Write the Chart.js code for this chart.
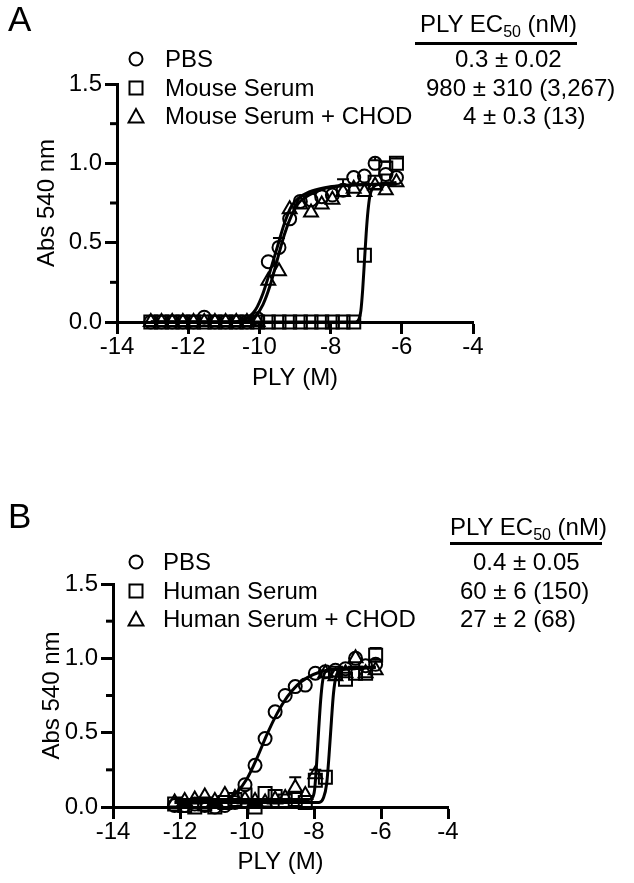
<!DOCTYPE html>
<html>
<head>
<meta charset="utf-8">
<title>PLY EC50</title>
<script src="https://cdn.jsdelivr.net/npm/chart.js@4.4.1/dist/chart.umd.min.js"></script>
<style>
  body { margin: 0; background: #fff; }
  #page { position: relative; width: 634px; height: 883px; font-family: "Liberation Sans", Arial, sans-serif; color: #000; overflow: hidden; }
  canvas { position: absolute; left: 0; }
  #chartA { top: 0; }
  #chartB { top: 440px; }
  .txt { position: absolute; font-size: 24px; line-height: 24px; white-space: nowrap; }
  .txt sub { font-size: 16px; line-height: 0; vertical-align: -5px; }
  .rule { position: absolute; height: 3px; background: #000; }
  .sym { position: absolute; width: 18px; height: 18px; }
  .panel { position: absolute; left: 8px; font-size: 35px; line-height: 35px; }
</style>
</head>
<body>
<div id="page">
  <canvas id="chartA" width="634" height="400"></canvas>
  <canvas id="chartB" width="634" height="443"></canvas>

  <div class="panel" style="top:1px">A</div>
  <div class="txt" style="left:420px;top:12px">PLY EC<sub>50</sub> (nM)</div>
  <div class="rule" style="left:415px;top:42px;width:162px"></div>
  <div class="txt" style="left:455px;top:47px">0.3 ± 0.02</div>
  <div class="txt" style="left:426px;top:76px">980 ± 310 (3,267)</div>
  <div class="txt" style="left:463px;top:104px">4 ± 0.3 (13)</div>

  <svg class="sym" style="left:127px;top:50px" viewBox="0 0 18 18"><circle cx="9" cy="9" r="6.5" fill="none" stroke="#000" stroke-width="2"/></svg>
  <div class="txt" style="left:165px;top:47px">PBS</div>
  <svg class="sym" style="left:127px;top:79px" viewBox="0 0 18 18"><rect x="2.5" y="2.5" width="13" height="13" fill="none" stroke="#000" stroke-width="2"/></svg>
  <div class="txt" style="left:165px;top:76px">Mouse Serum</div>
  <svg class="sym" style="left:127px;top:107px" viewBox="0 0 18 18"><polygon points="9,2 16.5,15.5 1.5,15.5" fill="none" stroke="#000" stroke-width="2"/></svg>
  <div class="txt" style="left:165px;top:104px">Mouse Serum + CHOD</div>

  <div class="panel" style="top:498px">B</div>
  <div class="txt" style="left:450px;top:515px">PLY EC<sub>50</sub> (nM)</div>
  <div class="rule" style="left:450px;top:542px;width:152px"></div>
  <div class="txt" style="left:473px;top:550px">0.4 ± 0.05</div>
  <div class="txt" style="left:460px;top:579px">60 ± 6 (150)</div>
  <div class="txt" style="left:460px;top:607px">27 ± 2 (68)</div>

  <svg class="sym" style="left:127px;top:553px" viewBox="0 0 18 18"><circle cx="9" cy="9" r="6.5" fill="none" stroke="#000" stroke-width="2"/></svg>
  <div class="txt" style="left:163px;top:550px">PBS</div>
  <svg class="sym" style="left:127px;top:582px" viewBox="0 0 18 18"><rect x="2.5" y="2.5" width="13" height="13" fill="none" stroke="#000" stroke-width="2"/></svg>
  <div class="txt" style="left:163px;top:579px">Human Serum</div>
  <svg class="sym" style="left:127px;top:610px" viewBox="0 0 18 18"><polygon points="9,2 16.5,15.5 1.5,15.5" fill="none" stroke="#000" stroke-width="2"/></svg>
  <div class="txt" style="left:163px;top:607px">Human Serum + CHOD</div>
</div>

<script>
"use strict";

const FONT = "'Liberation Sans', Arial, sans-serif";

// axis ticks (log10 of PLY molar concentration / absorbance)
const xTickVals = [-14, -12, -10, -8, -6, -4];
const yTickVals = [0, 0.5, 1.0, 1.5];
const yMinorVals = [0.25, 0.75, 1.25];

// Panel A - mouse serum
const xA = [-13.05, -12.75, -12.45, -12.15, -11.85, -11.55, -11.25, -10.95, -10.65, -10.35, -10.05, -9.75,
  -9.45, -9.15, -8.85, -8.55, -8.25, -7.95, -7.65, -7.35, -7.05, -6.75, -6.45, -6.15];
const pbsA = [0, 0, 0, 0, 0, 0.03, 0, 0, 0, 0, 0.02, 0.38,
  0.47, 0.65, 0.76, 0.77, 0.79, 0.8, 0.83, 0.91, 0.92, 1.0, 0.93, 0.91];
const serumA = [0, 0, 0, 0, 0, 0, 0, 0, 0, 0, 0, 0,
  0, 0, 0, 0, 0, 0, 0, 0, 0.42, 0.88, 0.97, 1.0];
const chodA = [0, 0, 0, 0, 0, 0, 0, 0, 0, 0, 0, 0.26,
  0.32, 0.71, 0.74, 0.69, 0.74, 0.77, 0.82, 0.84, 0.82, 0.86, 0.83, 0.88];
const errPbsA = [0, 0, 0, 0, 0, 0, 0, 0, 0, 0, 0, 0,
  0.06, 0, 0, 0, 0, 0, 0, 0, 0, 0.02, 0, 0];
const errSerumA = [0, 0, 0, 0, 0, 0, 0, 0, 0, 0, 0, 0,
  0, 0, 0, 0, 0, 0, 0, 0, 0, 0, 0.04, 0.03];
const errChodA = [0, 0, 0, 0, 0, 0, 0, 0, 0, 0, 0, 0,
  0, 0, 0, 0, 0, 0, 0.08, 0, 0, 0, 0, 0];

// fitted curves, panel A
const fitPbsA = [[-13.05, 0], [-10.8, 0], [-10.5, 0.01], [-10.3, 0.03], [-10.1, 0.08], [-9.9, 0.18],
  [-9.7, 0.32], [-9.5, 0.47], [-9.3, 0.62], [-9.1, 0.73], [-8.9, 0.78], [-8.6, 0.82], [-8.2, 0.845],
  [-7.6, 0.86], [-6.15, 0.87]];
const fitChodA = [[-13.05, 0], [-10.6, 0], [-10.3, 0.01], [-10.1, 0.04], [-9.9, 0.11], [-9.7, 0.23],
  [-9.5, 0.39], [-9.3, 0.55], [-9.1, 0.67], [-8.9, 0.75], [-8.6, 0.8], [-8.2, 0.84], [-7.6, 0.86],
  [-6.15, 0.87]];
const fitSerumA = [[-13.05, 0], [-7.3, 0], [-7.2, 0.02], [-7.15, 0.07], [-7.1, 0.2], [-7.05, 0.38],
  [-7.0, 0.56], [-6.95, 0.7], [-6.9, 0.79], [-6.8, 0.85], [-6.6, 0.87], [-6.15, 0.88]];

// Panel B - human serum
const xB = [-12.16, -11.86, -11.56, -11.26, -10.96, -10.66, -10.36, -10.06, -9.76, -9.46, -9.16,
  -8.86, -8.56, -8.26, -7.96, -7.66, -7.36, -7.06, -6.76, -6.46, -6.16];
const pbsB = [0.01, 0.01, 0.02, 0.01, 0, 0.01, 0.03, 0.15, 0.28, 0.46, 0.64,
  0.75, 0.81, 0.82, 0.9, 0.91, 0.92, 0.93, 1.0, 0.95, 0.96];
const serumB = [0.02, 0.01, 0, 0.02, 0, 0.03, 0.05, 0.08, 0, 0.09, 0.07,
  0.04, 0.05, 0.03, 0.18, 0.2, 0.9, 0.86, 0.9, 0.9, 1.02];
const chodB = [0.03, 0.04, 0.05, 0.07, 0.04, 0.08, 0.06, 0.05, 0.04, 0.03, 0.05,
  0.06, 0.13, 0.08, 0.22, 0.9, 0.88, 0.9, 1.0, 0.9, 0.92];
const errPbsB = [0, 0, 0, 0, 0, 0, 0, 0, 0, 0, 0,
  0, 0, 0, 0, 0, 0, 0, 0, 0, 0.03];
const errSerumB = [0, 0, 0, 0, 0, 0, 0, 0, 0, 0, 0,
  0, 0, 0, 0, 0, 0, 0, 0, 0, 0.05];
const errChodB = [0, 0, 0, 0, 0, 0, 0, 0, 0, 0, 0,
  0, 0.07, 0, 0.03, 0, 0, 0, 0, 0, 0];

const fitPbsB = [[-12.16, 0.03], [-11.0, 0.03], [-10.6, 0.05], [-10.3, 0.1], [-10.0, 0.19], [-9.7, 0.33],
  [-9.4, 0.49], [-9.1, 0.63], [-8.8, 0.74], [-8.5, 0.82], [-8.2, 0.87], [-7.8, 0.91], [-7.3, 0.93],
  [-6.16, 0.94]];
const fitChodB = [[-12.16, 0.05], [-8.15, 0.05], [-8.05, 0.06], [-7.98, 0.12], [-7.92, 0.3], [-7.86, 0.52],
  [-7.8, 0.72], [-7.74, 0.85], [-7.65, 0.91], [-7.0, 0.93], [-6.16, 0.94]];
const fitSerumB = [[-12.16, 0.03], [-7.85, 0.03], [-7.72, 0.06], [-7.62, 0.16], [-7.55, 0.35], [-7.48, 0.58],
  [-7.42, 0.76], [-7.34, 0.88], [-7.2, 0.92], [-6.8, 0.93], [-6.16, 0.94]];

// short minor ticks on the y axis
const minorTicks = {
  id: "minorTicks",
  afterDraw(chart) {
    const ys = chart.scales.y;
    const ctx = chart.ctx;
    ctx.save();
    ctx.strokeStyle = "#000";
    ctx.lineWidth = 3;
    yMinorVals.forEach(v => {
      const py = ys.getPixelForValue(v);
      ctx.beginPath();
      ctx.moveTo(ys.right - 7, py);
      ctx.lineTo(ys.right, py);
      ctx.stroke();
    });
    ctx.restore();
  }
};

// upper error bars (SEM)
const errorBars = {
  id: "errorBars",
  afterDatasetsDraw(chart) {
    const ys = chart.scales.y;
    const ctx = chart.ctx;
    ctx.save();
    ctx.strokeStyle = "#000";
    ctx.lineWidth = 2;
    chart.data.datasets.forEach((ds, i) => {
      if (!ds.err) return;
      const meta = chart.getDatasetMeta(i);
      ds.err.forEach((e, j) => {
        if (!e) return;
        const pt = meta.data[j];
        const top = ys.getPixelForValue(ds.data[j].y + e);
        ctx.beginPath();
        ctx.moveTo(pt.x, pt.y - 6);
        ctx.lineTo(pt.x, top);
        ctx.moveTo(pt.x - 6, top);
        ctx.lineTo(pt.x + 6, top);
        ctx.stroke();
      });
    });
    ctx.restore();
  }
};

function points(xs, ys, style, radius, err) {
  return {
    type: "scatter",
    data: xs.map((x, i) => ({ x: x, y: ys[i] })),
    pointStyle: style,
    pointRadius: radius,
    pointBorderWidth: 2,
    pointBorderColor: "#000",
    pointBackgroundColor: "rgba(0,0,0,0)",
    showLine: false,
    clip: false,
    err: err
  };
}

function fit(pairs) {
  return {
    type: "line",
    data: pairs.map(p => ({ x: p[0], y: p[1] })),
    borderColor: "#000",
    borderWidth: 3,
    pointRadius: 0,
    cubicInterpolationMode: "monotone",
    fill: false,
    clip: false
  };
}

function makeChart(id, datasets, box) {
  const font = { family: FONT, size: 24 };
  return new Chart(document.getElementById(id), {
    type: "scatter",
    data: { datasets: datasets },
    plugins: [minorTicks, errorBars],
    options: {
      responsive: false,
      animation: false,
      events: [],
      layout: { padding: { left: 0, right: box.right, top: box.top, bottom: 0 } },
      plugins: { legend: { display: false }, tooltip: { enabled: false } },
      scales: {
        x: {
          type: "linear",
          min: -14,
          max: -4,
          afterBuildTicks: s => { s.ticks = xTickVals.map(v => ({ value: v })); },
          afterFit: s => { s.height = box.xh; },
          grid: { drawOnChartArea: false, drawTicks: true, tickLength: 12, tickWidth: 3, tickColor: "#000" },
          border: { color: "#000", width: 3 },
          ticks: { color: "#000", font: font, padding: -1, maxRotation: 0, callback: v => String(v) },
          title: { display: true, text: "PLY (M)", color: "#000", font: font, padding: { top: 0, bottom: box.xtPad } }
        },
        y: {
          type: "linear",
          min: 0,
          max: 1.5,
          afterBuildTicks: s => { s.ticks = yTickVals.map(v => ({ value: v })); },
          afterFit: s => { s.width = box.yw; },
          grid: { drawOnChartArea: false, drawTicks: true, tickLength: 12, tickWidth: 3, tickColor: "#000" },
          border: { color: "#000", width: 3 },
          ticks: { color: "#000", font: font, padding: 3, callback: v => v.toFixed(1) },
          title: { display: true, text: "Abs 540 nm", color: "#000", font: font, padding: { top: box.ytPad, bottom: 0 } }
        }
      }
    }
  });
}

makeChart("chartA", [
  fit(fitPbsA), fit(fitChodA), fit(fitSerumA),
  points(xA, pbsA, "circle", 6.5, errPbsA),
  points(xA, serumA, "rect", 9.2, errSerumA),
  points(xA, chodA, "triangle", 8, errChodA)
], { right: 161, top: 84, xh: 78, yw: 117, xtPad: 7, ytPad: 33 });

makeChart("chartB", [
  fit(fitPbsB), fit(fitChodB), fit(fitSerumB),
  points(xB, pbsB, "circle", 6.5, errPbsB),
  points(xB, serumB, "rect", 9.2, errSerumB),
  points(xB, chodB, "triangle", 8, errChodB)
], { right: 186, top: 144, xh: 76, yw: 113, xtPad: 6, ytPad: 38 });
</script>
</body>
</html>
